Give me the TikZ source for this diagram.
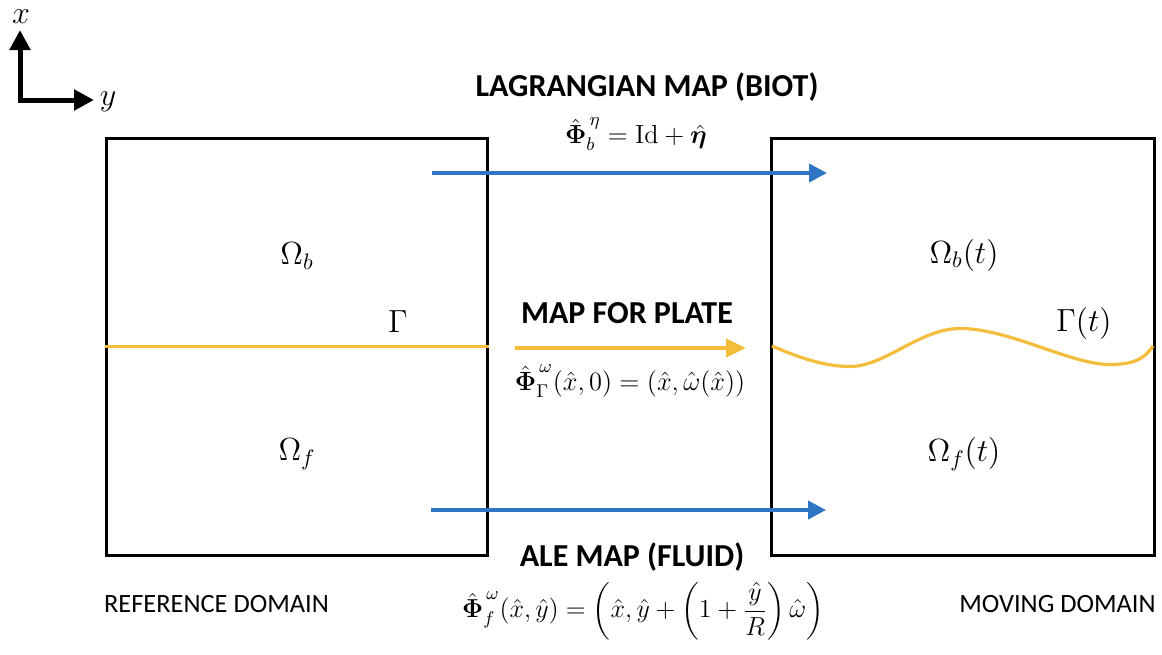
\RequirePackage{fix-cm}
\documentclass[tikz,border=0pt]{standalone}
\usepackage{amsmath,bm}
\usepackage{fontspec}
\newfontfamily\calfont{Carlito}
\usetikzlibrary{arrows.meta}
\definecolor{mapblue}{RGB}{46,117,196}
\definecolor{plateyellow}{RGB}{244,190,60}
\tikzset{
  domainbox/.style={draw=black,line width=1.5pt,inner sep=0pt},
  bluearrow/.style={draw=mapblue,line width=2pt,-{Triangle[length=9pt,width=9pt]}},
  yellowarrow/.style={draw=plateyellow,line width=2pt,-{Triangle[length=10pt,width=9pt]}},
  interface/.style={draw=plateyellow,line width=1.6pt},
  axisarrow/.style={draw=black,line width=2.5pt,-{Triangle[length=10pt,width=10pt]}},
  heading/.style={font=\calfont\bfseries\fontsize{16}{19}\selectfont,inner sep=0pt},
  caption/.style={font=\calfont\fontsize{13.2}{15}\selectfont,inner sep=0pt},
  formula/.style={font=\fontsize{13}{16}\selectfont,inner sep=0pt},
  domlabel/.style={font=\fontsize{16}{19}\selectfont,inner sep=0pt},
  axislabel/.style={font=\fontsize{16}{19}\selectfont,inner sep=0pt},
}
\begin{document}
\begin{tikzpicture}[x=0.5pt,y=-0.5pt]
\useasboundingbox (0,0) rectangle (1162,654);
% axes
\coordinate (o) at (20,100);
\coordinate (xa) at (20,30);
\coordinate (ya) at (94,100);
\draw[axisarrow] ([yshift=-1.25pt]o) -- (xa);
\draw[axisarrow] ([xshift=-1.25pt]o) -- (ya);
\node[axislabel] (xl) at (21,17) {$x$};
\node[axislabel] (yl) at (108,102) {$y$};
% boxes
\node[domainbox,minimum width=190.5pt,minimum height=208.5pt] (ref) at (296.5,346.5) {};
\node[domainbox,minimum width=191.5pt,minimum height=208.5pt] (mov) at (962.5,346.5) {};
% reference interface
\draw[interface] (ref.west) -- (ref.east);
% moving interface
\draw[interface] (772,346) .. controls (800,358) and (825,366.5) .. (850,366.5)
  .. controls (885,366.5) and (920,328.5) .. (960,328.5)
  .. controls (1010,328.5) and (1070,364.5) .. (1110,364.5)
  .. controls (1135,364.5) and (1145,358) .. (1153,346);
% domain labels
\node[domlabel] (ob) at (297,256) {$\Omega_b$};
\node[domlabel] (gam) at (398,322) {$\Gamma$};
\node[domlabel] (of) at (297,454) {$\Omega_f$};
\node[domlabel] (obt) at (964,255) {$\Omega_b(t)$};
\node[domlabel] (gamt) at (1084,323) {$\Gamma(t)$};
\node[domlabel] (oft) at (964,454) {$\Omega_f(t)$};
% arrows
\coordinate (b1s) at (432,173); \coordinate (b1e) at (827,173);
\coordinate (b2s) at (431,510); \coordinate (b2e) at (826,510);
\coordinate (ys) at (515,348); \coordinate (ye) at (746,348);
\draw[bluearrow] (b1s) -- (b1e);
\draw[bluearrow] (b2s) -- (b2e);
\draw[yellowarrow] (ys) -- (ye);
% headings
\node[heading] (h1) at (647,87) {LAGRANGIAN MAP (BIOT)};
\node[formula,font=\fontsize{13.1}{16}\selectfont] (f1) at (636,134) {$\hat{\bm{\Phi}}_b^{\,\eta} = \mathrm{Id} + \hat{\bm{\eta}}$};
\node[heading] (h2) at (627,313) {MAP FOR PLATE};
\node[formula,font=\fontsize{13.2}{16}\selectfont] (f2) at (630,381) {$\hat{\bm{\Phi}}_\Gamma^{\,\omega}(\hat{x},0) = (\hat{x},\hat{\omega}(\hat{x}))$};
\node[heading] (h3) at (632,557) {ALE MAP (FLUID)};
\node[formula] (f3) at (643,611) {$\hat{\bm{\Phi}}_f^{\,\omega}(\hat{x},\hat{y}) = \left(\hat{x},\hat{y}+\left(1+\dfrac{\hat{y}}{R}\right)\hat{\omega}\right)$};
% captions
\node[caption] (c1) at (216.5,604) {REFERENCE DOMAIN};
\node[caption] (c2) at (1057.5,604) {MOVING DOMAIN};
\end{tikzpicture}
\end{document}
